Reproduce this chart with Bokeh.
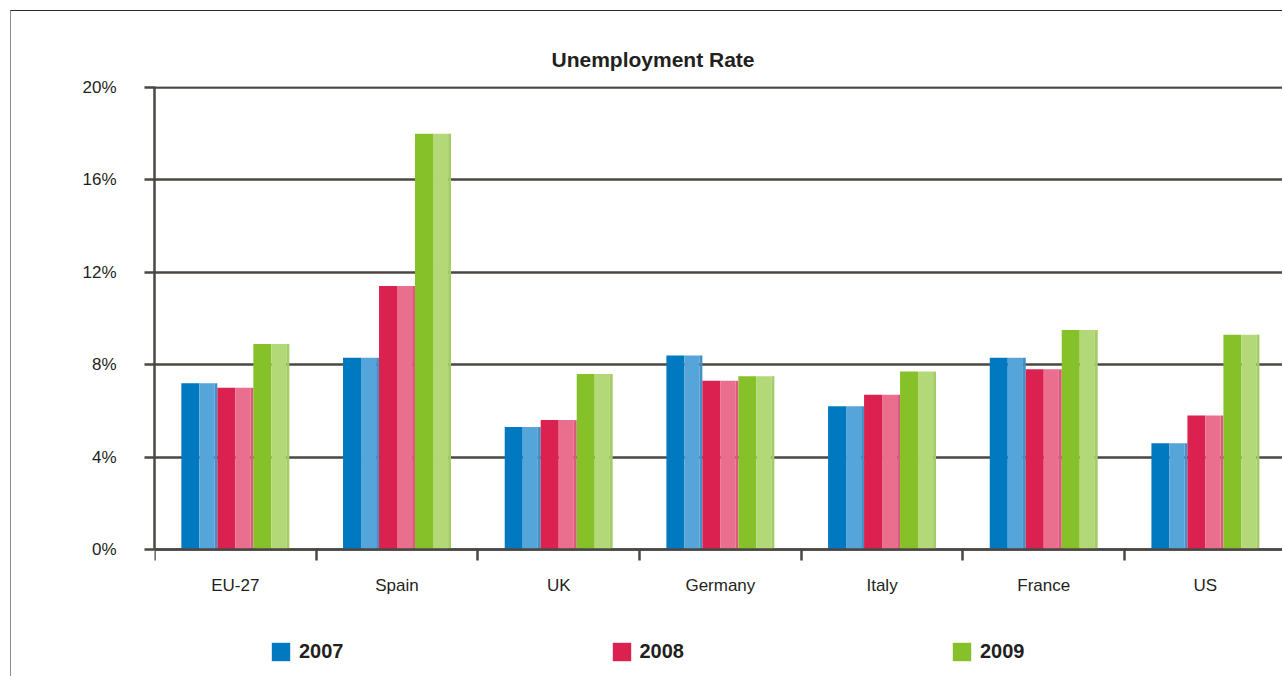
from bokeh.plotting import figure
from bokeh.models import (Range1d, FixedTicker, PrintfTickFormatter, Legend, LegendItem,
                          ColumnDataSource)
from bokeh.embed import file_html
from bokeh.resources import INLINE

countries = ["EU-27", "Spain", "UK", "Germany", "Italy", "France", "US"]
years = ["2007", "2008", "2009"]
y2007 = [7.2, 8.3, 5.3, 8.4, 6.2, 8.3, 4.6]
y2008 = [7.0, 11.4, 5.6, 7.3, 6.7, 7.8, 5.8]
y2009 = [8.9, 18.0, 7.6, 7.5, 7.7, 9.5, 9.3]
y_ticks = [0, 4, 8, 12, 16, 20]

dark = ["#0079C1", "#DB2150", "#86C12A"]
light = ["#55A5DA", "#EA6E8E", "#B3D878"]
edge = ["#4490C6", "#DC5A7C", "#A3CC64"]

FONT = "Liberation Sans"
TXT = "#231f20"
LINE = "#4b4743"

# the frame extends below 0% to leave room for the category labels and legend
p = figure(width=1272, height=666, output_backend="svg", toolbar_location=None,
           x_range=Range1d(0, 6.983), y_range=Range1d(-5.54, 20.04),
           min_border_left=143, min_border_top=75, min_border_right=0, min_border_bottom=0)
p.styles = {"border-left": "1px solid #8c8c8c", "border-top": "1px solid #2a2a2a",
            "margin-left": "10px", "margin-top": "10px"}
p.outline_line_color = None
p.background_fill_color = "white"
p.border_fill_color = "white"

bw = 0.2226  # width of one series bar in category units
half = bw / 2
items = []
for k, (yr, vals) in enumerate(zip(years, [y2007, y2008, y2009])):
    centers = [i + 0.5 + (k - 1) * bw for i in range(len(countries))]
    src_d = ColumnDataSource(dict(x=[c - half / 2 for c in centers], top=vals))
    src_l = ColumnDataSource(dict(x=[c + half / 2 - half * 0.08 for c in centers], top=vals))
    src_e = ColumnDataSource(dict(x=[c + half - half * 0.08 for c in centers], top=vals))
    r = p.vbar(x="x", top="top", bottom=0, width=half, source=src_d,
               fill_color=dark[k], line_color=None)
    p.vbar(x="x", top="top", bottom=0, width=half * 0.84, source=src_l,
           fill_color=light[k], line_color=None)
    p.vbar(x="x", top="top", bottom=0, width=half * 0.16, source=src_e,
           fill_color=edge[k], line_color=None)
    items.append(LegendItem(label=yr, renderers=[r]))

# y axis
p.yaxis.ticker = FixedTicker(ticks=y_ticks)
p.yaxis.bounds = (0, 20.04)
p.yaxis.formatter = PrintfTickFormatter(format="%d%%")
p.yaxis.axis_line_color = LINE
p.yaxis.axis_line_width = 2.5
p.yaxis.major_tick_line_color = LINE
p.yaxis.major_tick_line_width = 2.5
p.yaxis.major_tick_out = 10
p.yaxis.major_tick_in = 0
p.yaxis.minor_tick_line_color = None
p.yaxis.major_label_text_font = FONT
p.yaxis.major_label_text_font_size = "17px"
p.yaxis.major_label_text_color = TXT
p.yaxis.major_label_standoff = 28

# x axis, pinned at 0%
p.xaxis.fixed_location = 0
p.xaxis.ticker = FixedTicker(ticks=[i + 0.5 for i in range(len(countries))],
                             minor_ticks=list(range(len(countries) + 1)))
p.xaxis.major_label_overrides = {i + 0.5: c for i, c in enumerate(countries)}
p.xaxis.axis_line_color = LINE
p.xaxis.axis_line_width = 2.5
p.xaxis.major_tick_line_color = None
p.xaxis.major_tick_out = 0
p.xaxis.major_tick_in = 0
p.xaxis.minor_tick_line_color = LINE
p.xaxis.minor_tick_line_width = 2.5
p.xaxis.minor_tick_out = 11
p.xaxis.minor_tick_in = 0
p.xaxis.major_label_text_font = FONT
p.xaxis.major_label_text_font_size = "17px"
p.xaxis.major_label_text_color = TXT
p.xaxis.major_label_standoff = 15

# grid
p.xgrid.grid_line_color = None
p.ygrid.ticker = FixedTicker(ticks=y_ticks)
p.ygrid.grid_line_color = LINE
p.ygrid.grid_line_width = 2.5

# title
p.title.text = "Unemployment Rate"
p.title.text_font = FONT
p.title.text_font_size = "21px"
p.title.text_font_style = "bold"
p.title.text_color = TXT
p.title.align = "left"
p.title.offset = 397
p.title.standoff = 31

legend = Legend(items=items, orientation="horizontal", location=(115, 14),
                glyph_width=23, glyph_height=23, label_standoff=7, spacing=266,
                padding=0, margin=0, border_line_color=None, background_fill_alpha=0,
                label_text_font=FONT, label_text_font_size="20px",
                label_text_font_style="bold", label_text_color=TXT)
p.add_layout(legend, "center")

open("out.html", "w").write(file_html(p, INLINE))
